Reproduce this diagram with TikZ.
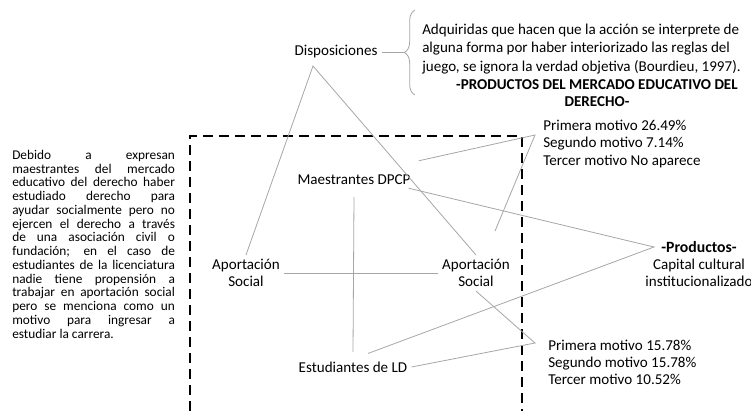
\documentclass[tikz,border=0pt]{standalone}
\usepackage{fontspec}
\setmainfont{Carlito}
\usepackage{tikz}
\usetikzlibrary{
  calc,
  decorations.pathreplacing
}
\definecolor{lnclr}{HTML}{A6A6A6}
\newcommand{\jline}[1]{\makebox[122pt][s]{#1}}

\begin{document}
\begin{tikzpicture}[x=0.75pt, y=-0.75pt,
  txt/.style={font=\fontsize{11.3}{12.8}\selectfont, align=center, inner sep=3pt},
  brtxt/.style={txt, font=\fontsize{11.3}{14.2}\selectfont},
  conn/.style={draw=lnclr, line width=0.6pt},
  brc/.style={conn, decorate, decoration={brace, amplitude=8pt}},
  dbox/.style={line width=2.2pt, dash pattern=on 7.5pt off 4.5pt},
  para/.style={font=\fontsize{10}{10.3}\selectfont, align=left,
               anchor=north west, inner sep=0pt},
]
  \useasboundingbox (0,0) rectangle (751,411);

  % Dashed frame
  \draw[dbox] (190,411) -- (190,136) -- (522,136) -- (522,411);

  % Top: dispositions and brace
  \node[txt] (disp) at (336,52) {Disposiciones};
  \coordinate (brT) at (404,52);
  \coordinate (brB) at (415,95);
  \coordinate (brU) at (415,10);
  \draw[conn] (disp.east) -- (brT);
  \draw[brc] (brB) -- (brU);
  \node[brtxt, align=left, anchor=west] (adq) at (418,49) {%
    Adquiridas que hacen que la acción se interprete de\\
    alguna forma por haber interiorizado las reglas del\\
    juego, se ignora la verdad objetiva (Bourdieu, 1997).};
  \node[brtxt, font=\bfseries\fontsize{11.3}{13.2}\selectfont] (prodt) at (597,93)
    {-PRODUCTOS DEL MERCADO EDUCATIVO DEL\\DERECHO-};

  % Left paragraph
  \node[para] (expl) at (12,150) {%
    \jline{Debido a expresan}\\
    \jline{maestrantes del mercado}\\
    \jline{educativo del derecho haber}\\
    \jline{estudiado derecho para}\\
    \jline{ayudar socialmente pero no}\\
    \jline{ejercen el derecho a través}\\
    \jline{de una asociación civil o}\\
    \jline{fundación; en el caso de}\\
    \jline{estudiantes de la licenciatura}\\
    \jline{nadie tiene propensión a}\\
    \jline{trabajar en aportación social}\\
    \jline{pero se menciona como un}\\
    \jline{motivo para ingresar a}\\
    estudiar la carrera.};

  % Inside the frame
  \node[txt] (maes) at (354,180) {Maestrantes DPCP};
  \node[txt] (apl) at (246,273) {Aportación\\Social};
  \node[txt] (apr) at (476,273) {Aportación\\Social};
  \node[txt] (est) at (353,367) {Estudiantes de LD};

  % Right side
  \node[txt, align=left, anchor=west] (mot1) at (539,144)
    {Primera motivo 26.49\%\\Segundo motivo 7.14\%\\Tercer motivo No aparece};
  \node[txt, align=left, anchor=west] (mot2) at (544,362)
    {Primera motivo 15.78\%\\Segundo motivo 15.78\%\\Tercer motivo 10.52\%};
  \node[txt, font=\fontsize{11.3}{12.5}\selectfont] (prods) at (699,264)
    {\textbf{\fontsize{11.8}{12.5}\selectfont-Productos-}\\Capital cultural\\institucionalizado};

  \coordinate (dispA) at (313,66);
  \coordinate (mot1A) at (535,135);
  \coordinate (mot2A) at (535,343);
  \coordinate (prodA) at (654,247);

  % Connectors
  \draw[conn] (apl.north) -- (dispA) -- (apr.north);
  \draw[conn] ($(maes.north east)+(4,-10)$) -- (mot1A)
    -- ($(apr.north east)+(-19,-24)$);
  \draw[conn] ($(maes.south east)+(-6,-1)$) -- (prodA)
    -- ($(est.north)+(15,-4)$);
  \draw[conn] ([yshift=-6pt]maes.south) -- ([yshift=4pt]est.north);
  \draw[conn] (apl.east) -- (apr.west);
  \draw[conn] (apr.south) -- (mot2A) -- (est.east);
\end{tikzpicture}
\end{document}
